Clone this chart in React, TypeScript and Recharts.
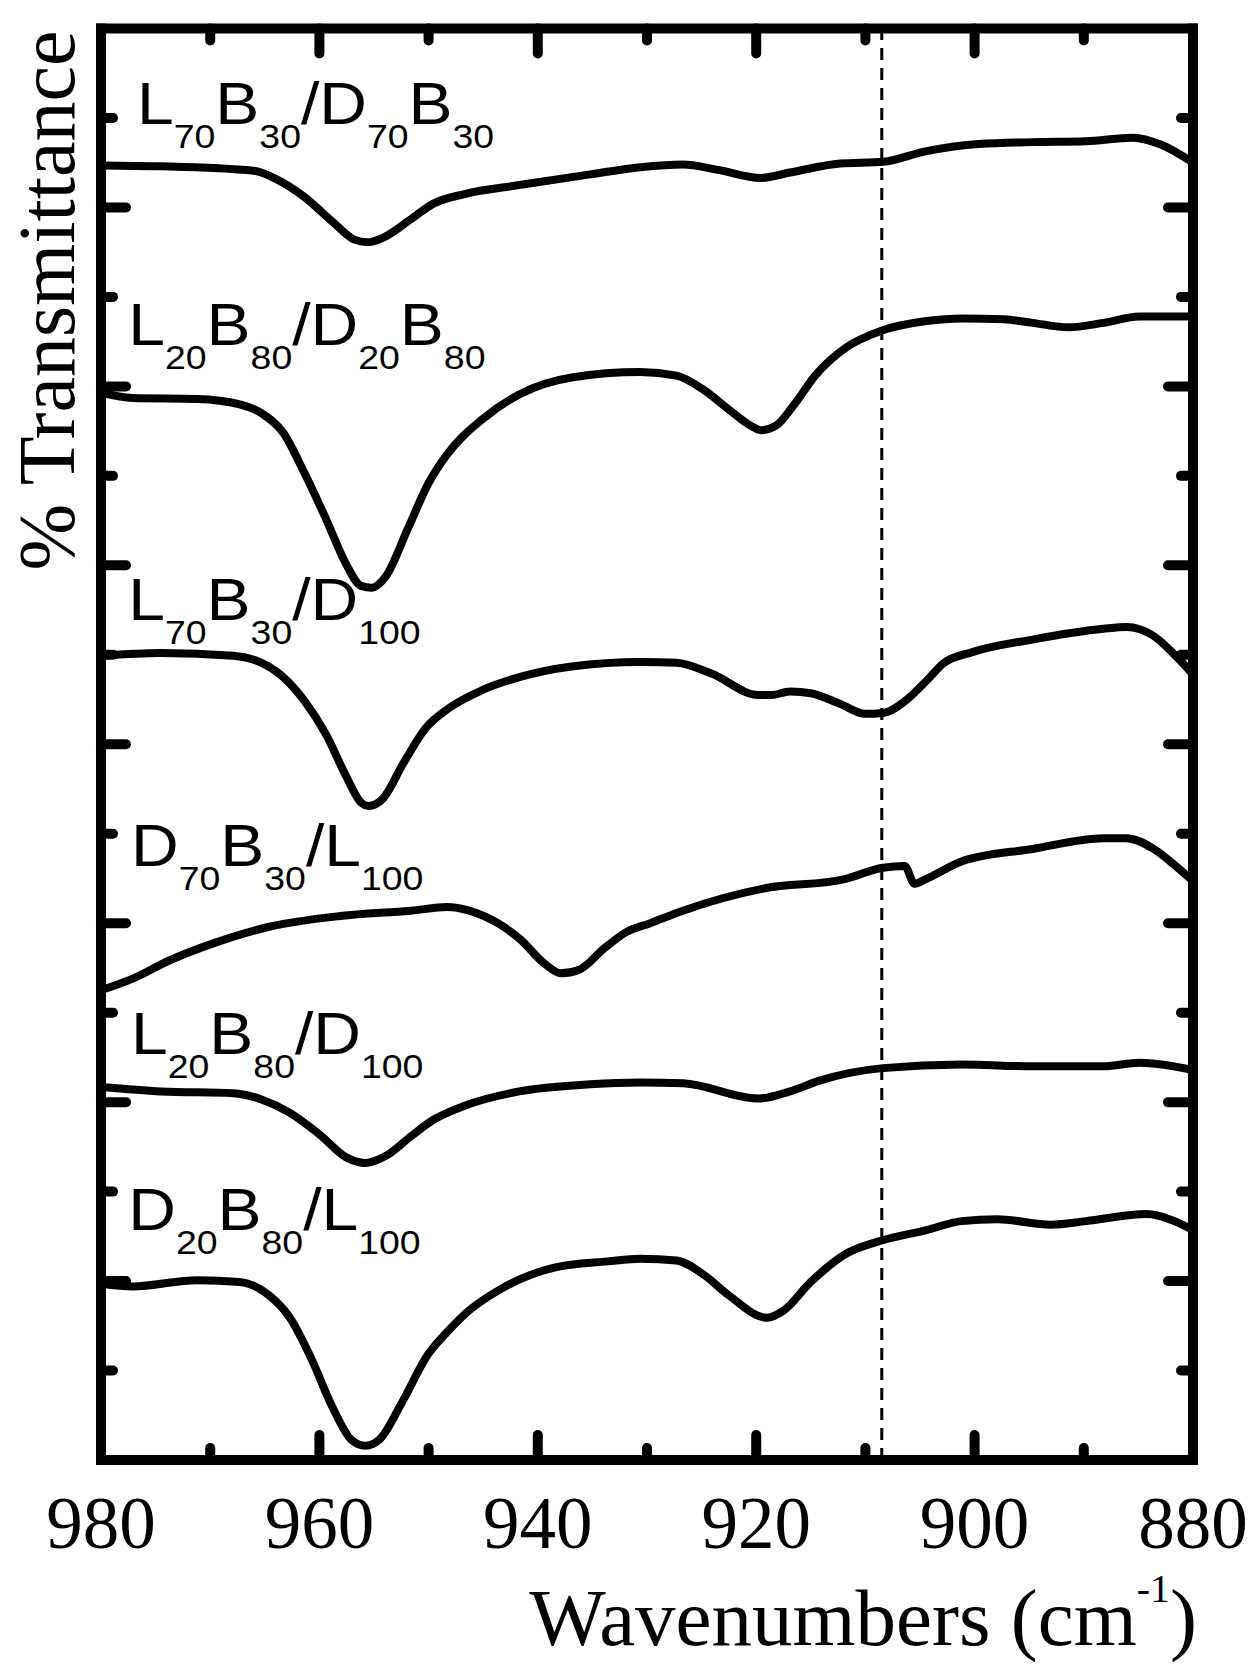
import React from 'react';
import { LineChart, Line, XAxis, YAxis, ReferenceLine, ReferenceDot } from 'recharts';

// ---- axis ticks ----
const xTicks = [980, 970, 960, 950, 940, 930, 920, 910, 900, 890, 880];
const yTicks = [0, 1, 2, 3, 4, 5, 6, 7, 8, 9, 10, 11, 12, 13, 14, 15, 16];
const markerWn = 908.5;

// ---- series (wavenumber, transmittance offset a.u.) ----
const s1Wn = [980, 974.5, 966, 964, 961.4, 958.8, 956.8, 955.6, 954.2, 951.6, 949.6, 946.7, 941.7, 935.2, 930.6, 926.7, 923.5, 919.6, 916.9, 912.3, 908.4, 904.4, 899.6, 894.7, 889.8, 885.5, 882.9, 880];
const s1T = [14.47, 14.46, 14.41, 14.32, 14.12, 13.84, 13.64, 13.61, 13.66, 13.87, 14.04, 14.15, 14.25, 14.37, 14.45, 14.48, 14.42, 14.33, 14.39, 14.49, 14.51, 14.63, 14.71, 14.73, 14.74, 14.78, 14.7, 14.5];

const s2Wn = [980, 977.1, 971.2, 967.3, 965.3, 963.3, 961.4, 959.4, 957.5, 956.2, 955.2, 953.9, 951.9, 950, 948.3, 945, 941.7, 936.9, 930.6, 927.3, 924.8, 922.5, 920.5, 919.6, 918.2, 916.5, 914.6, 911.7, 908.6, 904.4, 901.2, 897.3, 894.7, 891.4, 888.2, 884.9, 880];
const s2T = [11.93, 11.87, 11.86, 11.8, 11.7, 11.48, 11.04, 10.52, 10.0, 9.77, 9.75, 9.88, 10.41, 10.92, 11.24, 11.64, 11.91, 12.1, 12.16, 12.12, 11.96, 11.74, 11.56, 11.51, 11.56, 11.8, 12.12, 12.44, 12.62, 12.73, 12.76, 12.75, 12.71, 12.66, 12.71, 12.78, 12.78];

const s3Wn = [980, 974.5, 967.9, 965.3, 963.3, 961.4, 959.4, 957.5, 956.2, 955.5, 954.2, 952.3, 950.2, 948.3, 945, 941.7, 936.9, 930.6, 927.3, 924.1, 919.8, 918.6, 916.9, 915, 912.3, 910, 908.4, 906.1, 904.4, 902.8, 900.2, 894.7, 888.2, 886.1, 883.6, 881.6, 880];
const s3T = [8.99, 9.02, 8.99, 8.91, 8.75, 8.49, 8.11, 7.63, 7.35, 7.31, 7.39, 7.79, 8.19, 8.39, 8.61, 8.75, 8.87, 8.92, 8.91, 8.79, 8.55, 8.55, 8.59, 8.57, 8.45, 8.34, 8.35, 8.51, 8.71, 8.91, 9.03, 9.17, 9.29, 9.31, 9.21, 8.99, 8.78];

const s4Wn = [980, 977.1, 973.8, 969.6, 964.6, 958.1, 951.6, 948.3, 946.3, 943.4, 941.7, 939.4, 937.9, 936.2, 933.9, 931.9, 929.7, 926.7, 919.2, 912, 908.4, 906.4, 905.5, 904.5, 901.2, 894.7, 888.2, 886.1, 883.6, 881.6, 880];
const s4T = [5.25, 5.38, 5.58, 5.78, 5.96, 6.08, 6.14, 6.18, 6.14, 5.98, 5.83, 5.55, 5.44, 5.48, 5.72, 5.9, 6.0, 6.14, 6.39, 6.49, 6.62, 6.64, 6.44, 6.49, 6.69, 6.83, 6.95, 6.95, 6.83, 6.64, 6.47];

const s5Wn = [980, 974.5, 967.9, 965.3, 962.7, 960, 957.5, 955.8, 953.9, 951.6, 949.6, 946.7, 941.7, 935.2, 930.6, 926.7, 919.8, 916.9, 914.2, 908.4, 901.2, 894.7, 888.2, 884.9, 880];
const s5T = [4.17, 4.12, 4.1, 4.03, 3.88, 3.64, 3.38, 3.32, 3.4, 3.62, 3.8, 3.96, 4.12, 4.2, 4.22, 4.21, 4.04, 4.12, 4.24, 4.38, 4.42, 4.4, 4.4, 4.44, 4.36];

const s6Wn = [980, 977.1, 971.2, 967.3, 964.6, 962.7, 960.8, 958.8, 957.1, 955.8, 954.5, 952.5, 950, 948.3, 946.3, 943.4, 938.5, 933.6, 930.6, 927.3, 924.8, 922.5, 919, 917.5, 915, 911.7, 908.6, 904.4, 901.2, 897.9, 893, 889.8, 884.2, 881.9, 880];
const s6T = [1.97, 1.94, 2.01, 1.99, 1.84, 1.59, 1.15, 0.59, 0.23, 0.16, 0.23, 0.63, 1.19, 1.43, 1.67, 1.91, 2.15, 2.22, 2.25, 2.23, 2.07, 1.84, 1.59, 1.67, 1.99, 2.31, 2.45, 2.57, 2.67, 2.69, 2.63, 2.67, 2.75, 2.68, 2.57];

// ---- series labels: [main, subscript] parts ----
const labelParts: [string, string][][] = [
  [['L', '70'], ['B', '30'], ['/', ''], ['D', '70'], ['B', '30']],
  [['L', '20'], ['B', '80'], ['/', ''], ['D', '20'], ['B', '80']],
  [['L', '70'], ['B', '30'], ['/', ''], ['D', '100']],
  [['D', '70'], ['B', '30'], ['/', ''], ['L', '100']],
  [['L', '20'], ['B', '80'], ['/', ''], ['D', '100']],
  [['D', '20'], ['B', '80'], ['/', ''], ['L', '100']],
];
// label anchor (text baseline start) in data coordinates
const labelWn = [976.7, 977.5, 977.5, 977.25, 977.25, 977.5];
const labelT = [14.93, 12.46, 9.39, 6.64, 4.54, 2.57];

const toData = (wn: number[], t: number[]) => wn.map((w, i) => ({ wn: w, t: t[i] }));
const series = [
  toData(s1Wn, s1T),
  toData(s2Wn, s2T),
  toData(s3Wn, s3T),
  toData(s4Wn, s4T),
  toData(s5Wn, s5T),
  toData(s6Wn, s6T),
];

const SERIF = '"Liberation Serif", "Times New Roman", serif';
const SANS = '"Liberation Sans", Arial, sans-serif';

const BottomTick = (p: any) => {
  const { x, y, payload } = p;
  const v = payload.value;
  const major = v % 20 === 0;
  const end = v === 980 || v === 880;
  return (
    <g>
      {!end && (
        <line x1={x} y1={y} x2={x} y2={y - (major ? 25 : 12)} stroke="#000" strokeWidth={10} strokeLinecap="round" />
      )}
      {major && (
        <text x={x} y={y + 88} textAnchor="middle" fontFamily={SERIF} fontSize={73} fill="#000">
          {v}
        </text>
      )}
    </g>
  );
};

const TopTick = (p: any) => {
  const { x, y, payload } = p;
  const v = payload.value;
  const major = v % 20 === 0;
  if (v === 980 || v === 880) return <g />;
  return <line x1={x} y1={y} x2={x} y2={y + (major ? 25 : 12)} stroke="#000" strokeWidth={10} strokeLinecap="round" />;
};

const LeftTick = (p: any) => {
  const { x, y, payload } = p;
  const v = payload.value;
  if (v === 0 || v === 16) return <g />;
  const major = v % 2 === 0;
  return <line x1={x} y1={y} x2={x + (major ? 25 : 12)} y2={y} stroke="#000" strokeWidth={10} strokeLinecap="round" />;
};

const RightTick = (p: any) => {
  const { x, y, payload } = p;
  const v = payload.value;
  if (v === 0 || v === 16) return <g />;
  const major = v % 2 === 0;
  return <line x1={x} y1={y} x2={x - (major ? 25 : 12)} y2={y} stroke="#000" strokeWidth={10} strokeLinecap="round" />;
};

const SeriesLabel = ({ x, y, parts }: { x: number; y: number; parts: [string, string][] }) => {
  const kids: any[] = [];
  let down = false;
  parts.forEach(([main, sub], i) => {
    kids.push(
      <tspan key={'m' + i} dy={down ? -24 : 0} fontSize={60}>
        {main}
      </tspan>
    );
    down = false;
    if (sub) {
      kids.push(
        <tspan key={'s' + i} dy={24} fontSize={34}>
          {sub}
        </tspan>
      );
      down = true;
    }
  });
  return (
    <text transform={`translate(${x},${y}) scale(1.1,1)`} x={0} y={0} fontFamily={SANS} fill="#000">
      {kids}
    </text>
  );
};

const XTitle = (p: any) => {
  const vb = p.viewBox || { x: 101, y: 1460, width: 1092, height: 1 };
  return (
    <text x={vb.x + vb.width + 4} y={vb.y + 185} textAnchor="end" fontFamily={SERIF} fontSize={81} fill="#000">
      Wavenumbers (cm
      <tspan dy={-43} fontSize={40}>
        -1
      </tspan>
      <tspan dy={43}>)</tspan>
    </text>
  );
};

const YTitle = (p: any) => {
  const vb = p.viewBox || { x: 100, y: 28.5, width: 1, height: 1431.5 };
  const cx = vb.x + vb.width - 27;
  const cy = vb.y + 272;
  return (
    <text x={cx} y={cy} transform={`rotate(-90, ${cx}, ${cy})`} textAnchor="middle" fontFamily={SERIF} fontSize={80} fill="#000">
      % Transmittance
    </text>
  );
};

const axisLine = { stroke: '#000', strokeWidth: 10, strokeLinecap: 'square' as const };

export default function App() {
  return (
    <div style={{ position: 'absolute', left: 0, top: 0, width: 1259, height: 1677, background: '#fff' }}>
      <LineChart width={1259} height={1677} margin={{ top: 27.5, right: 65, bottom: 216, left: 100 }}>
        <XAxis
          xAxisId="b"
          orientation="bottom"
          type="number"
          dataKey="wn"
          domain={[880, 980]}
          reversed
          allowDataOverflow
          ticks={xTicks}
          interval={0}
          height={1}
          tickSize={0}
          tickMargin={0}
          tickLine={false}
          axisLine={axisLine}
          tick={(p: any) => <BottomTick {...p} />}
          label={{ content: (p: any) => <XTitle {...p} /> }}
        />
        <XAxis
          xAxisId="t"
          orientation="top"
          type="number"
          dataKey="wn"
          domain={[880, 980]}
          reversed
          allowDataOverflow
          ticks={xTicks}
          interval={0}
          height={1}
          tickSize={0}
          tickMargin={0}
          tickLine={false}
          axisLine={axisLine}
          tick={(p: any) => <TopTick {...p} />}
        />
        <YAxis
          yAxisId="l"
          orientation="left"
          type="number"
          domain={[0, 16]}
          allowDataOverflow
          ticks={yTicks}
          interval={0}
          width={1}
          tickSize={0}
          tickMargin={0}
          tickLine={false}
          axisLine={axisLine}
          tick={(p: any) => <LeftTick {...p} />}
          label={{ content: (p: any) => <YTitle {...p} /> }}
        />
        <YAxis
          yAxisId="r"
          orientation="right"
          type="number"
          domain={[0, 16]}
          allowDataOverflow
          ticks={yTicks}
          interval={0}
          width={1}
          tickSize={0}
          tickMargin={0}
          tickLine={false}
          axisLine={axisLine}
          tick={(p: any) => <RightTick {...p} />}
        />
        <ReferenceLine
          xAxisId="b"
          yAxisId="l"
          x={markerWn}
          stroke="#000"
          strokeWidth={3}
          strokeDasharray="12 8"
        />
        {series.map((d, i) => (
          <Line
            key={'s' + i}
            xAxisId="b"
            yAxisId="l"
            data={d}
            dataKey="t"
            type="monotone"
            stroke="#000"
            strokeWidth={8}
            strokeLinejoin="round"
            dot={false}
            activeDot={false}
            isAnimationActive={false}
          />
        ))}
        {labelParts.map((parts, i) => (
          <ReferenceDot
            key={'l' + i}
            xAxisId="b"
            yAxisId="l"
            x={labelWn[i]}
            y={labelT[i]}
            r={0}
            fill="none"
            stroke="none"
            label={{
              content: (p: any) => {
                const vb = p.viewBox || { x: 0, y: 0 };
                return <SeriesLabel x={vb.x} y={vb.y} parts={parts} />;
              },
            }}
          />
        ))}
      </LineChart>
    </div>
  );
}
